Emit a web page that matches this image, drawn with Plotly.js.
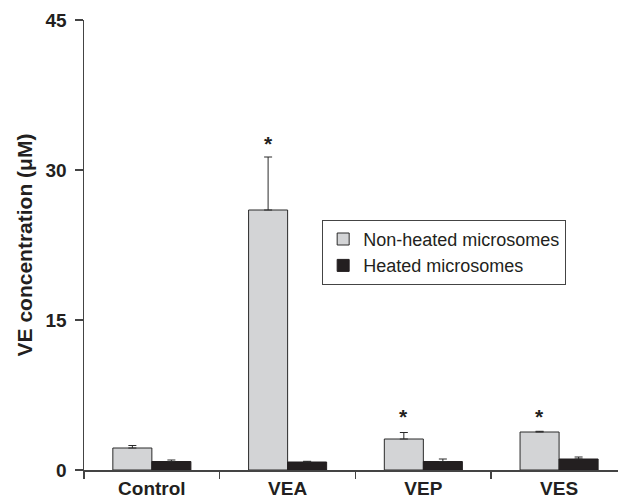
<!DOCTYPE html>
<html>
<head>
<meta charset="utf-8">
<script src="https://cdn.plot.ly/plotly-3.0.1.min.js"></script>
<style>html,body{margin:0;padding:0;background:#fff;}#chart{width:618px;height:501px;}</style>
</head>
<body>
<div id="chart"></div>
<script>
var categories = ["Control", "VEA", "VEP", "VES"];
var nonHeated = [2.2, 26.0, 3.1, 3.8];
var nonHeatedErr = [0.25, 5.3, 0.65, 0.07];
var heated = [0.85, 0.8, 0.85, 1.1];
var heatedErr = [0.15, 0.07, 0.25, 0.2];
var starLabels = ["", "*", "*", "*"];
var starY = [null, 32.7, 5.4, 5.4];
var yTicks = [0, 15, 30, 45];

var FONT = '"Liberation Sans", Arial, Helvetica, sans-serif';

var traces = [
  {
    type: 'bar', name: 'Non-heated microsomes',
    x: categories, y: nonHeated,
    marker: {color: '#d3d4d6', line: {color: '#2a2a2a', width: 1}},
    error_y: {type: 'data', array: nonHeatedErr, symmetric: false, arrayminus: [0,0,0,0],
              color: '#2a2a2a', thickness: 1, width: 4}
  },
  {
    type: 'bar', name: 'Heated microsomes',
    x: categories, y: heated,
    marker: {color: '#231f20', line: {color: '#231f20', width: 1}},
    error_y: {type: 'data', array: heatedErr, symmetric: false, arrayminus: [0,0,0,0],
              color: '#2a2a2a', thickness: 1, width: 4}
  }
];

var annotations = [];
for (var i = 0; i < categories.length; i++) {
  if (starLabels[i]) {
    annotations.push({
      x: categories[i], y: starY[i], xref: 'x', yref: 'y',
      text: '<b>' + starLabels[i] + '</b>', showarrow: false, xshift: -19.5,
      xanchor: 'center', yanchor: 'middle',
      font: {family: FONT, size: 21, color: '#231f20'}
    });
  }
}

var layout = {
  width: 618, height: 501,
  margin: {l: 84, r: 0, t: 20, b: 31, pad: 0},
  paper_bgcolor: '#fff', plot_bgcolor: '#fff',
  font: {family: FONT, color: '#231f20'},
  barmode: 'group', bargap: 0.425, bargroupgap: 0,
  showlegend: true,
  legend: {
    x: 0.446, y: 0.556, xanchor: 'left', yanchor: 'top',
    bgcolor: '#fff', bordercolor: '#444', borderwidth: 1,
    font: {family: FONT, size: 18, color: '#231f20'},
    traceorder: 'normal', tracegroupgap: 0
  },
  xaxis: {
    type: 'category', range: [-0.5, 3.434],
    showline: true, linecolor: '#444', linewidth: 1.5,
    ticks: 'outside', tickson: 'boundaries', ticklen: 7, tickcolor: '#444', tickwidth: 1.5,
    showgrid: false, zeroline: false, fixedrange: true,
    tickfont: {family: FONT, size: 19, color: '#231f20', weight: 'bold'},
    ticklabelstandoff: 1
  },
  yaxis: {
    range: [0, 45], tickvals: yTicks, ticktext: yTicks.map(String),
    showline: true, linecolor: '#444', linewidth: 1.5,
    ticks: 'outside', ticklen: 8, tickcolor: '#444', tickwidth: 1.5,
    showgrid: false, zeroline: false, automargin: true,
    tickfont: {family: FONT, size: 19, color: '#231f20', weight: 'bold'},
    ticklabelstandoff: 4,
    title: {text: 'VE concentration (μM)', font: {family: FONT, size: 21, color: '#231f20', weight: 'bold'}, standoff: 7}
  },
  annotations: annotations
};

Plotly.newPlot('chart', traces, layout, {displayModeBar: false, staticPlot: true});
</script>
</body>
</html>
